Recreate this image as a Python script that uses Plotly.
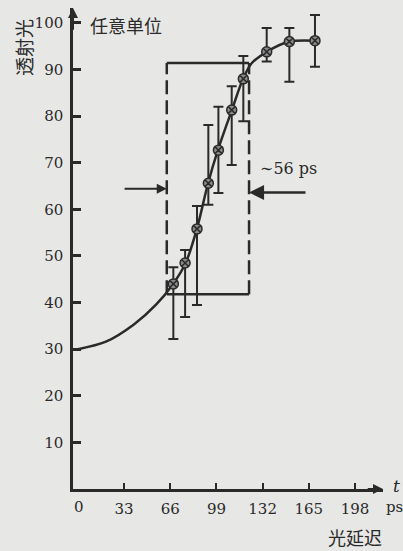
import plotly.graph_objects as go

# ---- data ----
delay_ps = [68.2, 76.6, 85.1, 93.2, 100.4, 109.9, 118.2, 134.9, 151.1, 169.4]
transmission = [44.0, 48.5, 55.8, 65.6, 72.7, 81.3, 88.0, 93.8, 96.0, 96.2]
err_upper = [3.6, 2.8, 4.9, 12.5, 9.3, 5.1, 4.9, 5.1, 2.9, 5.5]
err_lower = [11.8, 11.6, 16.3, 4.6, 9.2, 11.8, 9.1, 2.1, 8.6, 5.6]

# smooth fitted curve (knots)
curve_t = [0, 20, 40, 56, 68, 77, 85, 93, 100, 110, 118, 124, 135, 151, 169]
curve_v = [30, 31.6, 35.3, 39.6, 44, 48.5, 55.8, 65.6, 72.7, 81.3, 88, 91.3, 93.8, 96, 96.2]

# pulse window (dashed box)
pulse_start, pulse_end = 63.5, 122.3
pulse_low, pulse_high = 41.8, 91.4
arrow_level_left, arrow_level_right = 64.4, 63.6
arrow_from_left, arrow_from_right = 32.3, 163.7

x_ticks = [33, 66, 99, 132, 165, 198]
x_tick_labels = ["33", "66", "99", "132", "165", "198"]
y_ticks = [10, 20, 30, 40, 50, 60, 70, 80, 90, 100]
y_tick_labels = ["10", "20", "30", "40", "50", "60", "70", "80", "90", "100"]

ink = "#2a2a2a"
bg = "#e7e7e5"
serif = "DejaVu Serif"
cjk = "Noto Sans CJK SC"

W, H = 403, 551
ML, MR, MT, MB = 73, 20, 8, 62
PW, PH = W - ML - MR, H - MT - MB
XR = [-3.5, 218]
YR = [0, 103.2]


def px(xp):
    return (xp - ML) / PW


def py(yp):
    return (H - MB - yp) / PH


def label(xp, yp, text, family, size, **kw):
    d = dict(x=px(xp), y=py(yp), xref="paper", yref="paper", text=text,
             xanchor="center", yanchor="middle", showarrow=False,
             font=dict(family=family, size=size, color=ink))
    d.update(kw)
    return d


fig = go.Figure()

fig.add_trace(go.Scatter(
    x=curve_t, y=curve_v, mode="lines",
    line=dict(shape="spline", smoothing=0.9, color=ink, width=2.5),
    hoverinfo="skip", showlegend=False))

fig.add_trace(go.Scatter(
    x=delay_ps, y=transmission, mode="markers",
    marker=dict(symbol="circle-x", size=10, color="#8a8a8a",
                line=dict(color=ink, width=1.5)),
    error_y=dict(type="data", symmetric=False, array=err_upper,
                 arrayminus=err_lower, color=ink, thickness=2, width=5),
    showlegend=False))

dash = "14px,6px"
shapes = [
    dict(type="line", x0=pulse_start, x1=pulse_start, y0=pulse_low, y1=pulse_high,
         line=dict(color=ink, width=2.5, dash=dash)),
    dict(type="line", x0=pulse_end, x1=pulse_end, y0=pulse_low, y1=pulse_high,
         line=dict(color=ink, width=2.5, dash=dash)),
    dict(type="line", x0=pulse_start, x1=pulse_end, y0=pulse_high, y1=pulse_high,
         line=dict(color=ink, width=2.5)),
    dict(type="line", x0=pulse_start, x1=pulse_end, y0=pulse_low, y1=pulse_low,
         line=dict(color=ink, width=2.5)),
]

annotations = [
    # axis arrows
    dict(x=XR[1], y=0, ax=XR[1] - 12, ay=0, axref="x", ayref="y", xref="x", yref="y",
         text="", showarrow=True, arrowhead=2, arrowsize=1, arrowwidth=2, arrowcolor=ink),
    dict(x=XR[0], y=YR[1], ax=XR[0], ay=YR[1] - 5, axref="x", ayref="y", xref="x", yref="y",
         text="", showarrow=True, arrowhead=2, arrowsize=1, arrowwidth=2, arrowcolor=ink),
    # pulse width arrows
    dict(x=pulse_start, y=arrow_level_left, ax=arrow_from_left, ay=arrow_level_left,
         axref="x", ayref="y", xref="x", yref="y", text="", showarrow=True,
         arrowhead=2, arrowsize=1, arrowwidth=2, arrowcolor=ink),
    dict(x=pulse_end, y=arrow_level_right, ax=arrow_from_right, ay=arrow_level_right,
         axref="x", ayref="y", xref="x", yref="y", text="", showarrow=True,
         arrowhead=2, arrowsize=1.2, arrowwidth=2.5, arrowcolor=ink),
    label(288, 168, "∼56 ps", serif, 16),
    # texts
    label(88, 25, "任意单位", cjk, 18, xanchor="left"),
    label(23, 48, "透射光", cjk, 19, textangle=-90),
    label(78.5, 507, "0", serif, 15),
    label(396, 486, "<i>t</i>", serif, 17),
    label(394, 507, "ps", serif, 15),
    label(355, 537, "光延迟", cjk, 18),
]

fig.update_layout(
    width=W, height=H, autosize=False,
    margin=dict(l=ML, r=MR, t=MT, b=MB, pad=0),
    paper_bgcolor=bg, plot_bgcolor=bg,
    shapes=shapes, annotations=annotations,
    xaxis=dict(range=XR, showgrid=False, zeroline=False, showline=True,
               linecolor=ink, linewidth=2.5, ticks="inside", ticklen=6,
               tickwidth=2, tickcolor=ink, tickvals=x_ticks, ticktext=x_tick_labels,
               tickfont=dict(family=serif, size=15, color=ink), ticklabelstandoff=4),
    yaxis=dict(range=YR, showgrid=False, zeroline=False, showline=True,
               linecolor=ink, linewidth=2.5, ticks="inside", ticklen=8,
               tickwidth=2.5, tickcolor=ink, tickvals=y_ticks, ticktext=y_tick_labels,
               tickfont=dict(family=serif, size=15, color=ink), ticklabelstandoff=4),
)

fig.write_html("out.html")
